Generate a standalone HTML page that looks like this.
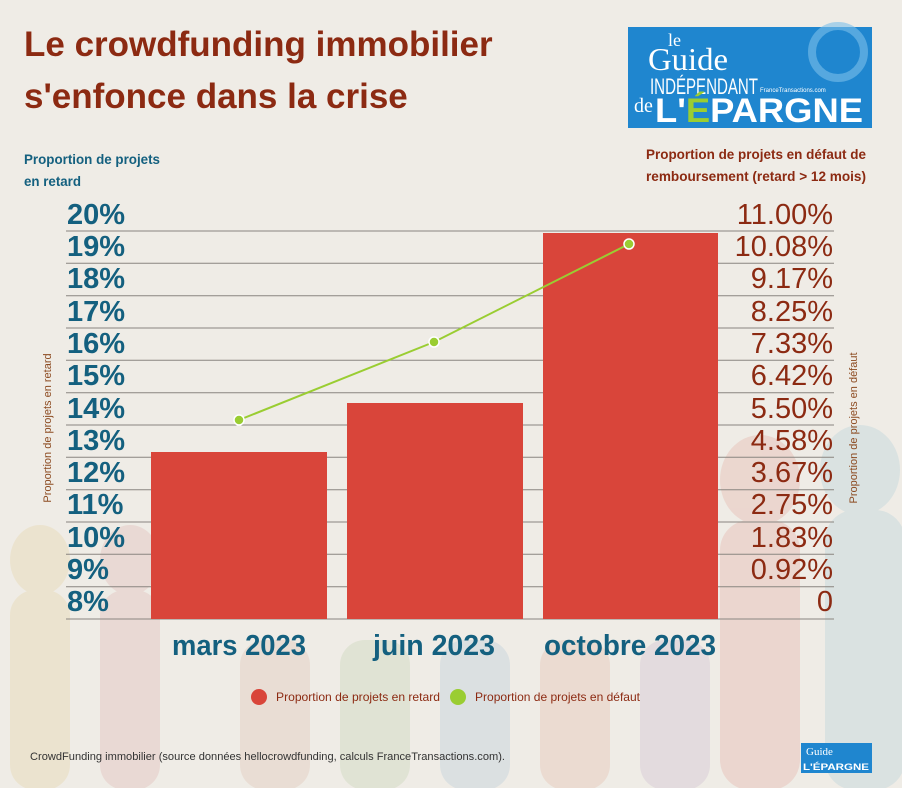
<!DOCTYPE html>
<html><head><meta charset="utf-8"><style>
body{margin:0;width:902px;height:788px;background:#efece6;overflow:hidden;font-family:"Liberation Sans",sans-serif;position:relative}
.t{position:absolute;left:24px;font-weight:bold;font-size:35px;color:#8c2a12;white-space:nowrap}
</style></head><body>
<svg width="902" height="788" style="position:absolute;left:0;top:0">
<g opacity="0.14">
<ellipse cx="40" cy="560" rx="30" ry="35" fill="#d9b24a"/><rect x="10" y="590" width="60" height="200" rx="25" fill="#d9b24a"/>
<ellipse cx="130" cy="560" rx="30" ry="35" fill="#c96a6a"/><rect x="100" y="590" width="60" height="200" rx="25" fill="#c96a6a"/>
<ellipse cx="760" cy="480" rx="40" ry="45" fill="#d45a4a"/><rect x="720" y="520" width="80" height="270" rx="30" fill="#d45a4a"/>
<ellipse cx="860" cy="470" rx="40" ry="45" fill="#5fa8c8"/><rect x="825" y="510" width="80" height="280" rx="30" fill="#5fa8c8"/>
<rect x="240" y="640" width="70" height="150" rx="25" fill="#c98a6a"/><rect x="340" y="640" width="70" height="150" rx="25" fill="#8cb06a"/>
<rect x="440" y="640" width="70" height="150" rx="25" fill="#6a9ec9"/><rect x="540" y="640" width="70" height="150" rx="25" fill="#d47a5a"/>
<rect x="640" y="640" width="70" height="150" rx="25" fill="#a07ab0"/>
</g>
<g stroke="#8a8580" stroke-width="1">
<line x1="66" x2="834" y1="231" y2="231"/><line x1="66" x2="834" y1="263.3" y2="263.3"/><line x1="66" x2="834" y1="295.7" y2="295.7"/>
<line x1="66" x2="834" y1="328" y2="328"/><line x1="66" x2="834" y1="360.3" y2="360.3"/><line x1="66" x2="834" y1="392.7" y2="392.7"/>
<line x1="66" x2="834" y1="425" y2="425"/><line x1="66" x2="834" y1="457.3" y2="457.3"/><line x1="66" x2="834" y1="489.7" y2="489.7"/>
<line x1="66" x2="834" y1="522" y2="522"/><line x1="66" x2="834" y1="554.3" y2="554.3"/><line x1="66" x2="834" y1="586.7" y2="586.7"/>
<line x1="66" x2="834" y1="619" y2="619"/>
</g>
<g fill="#d9453a">
<rect x="151" y="452" width="176" height="167"/><rect x="347" y="403" width="176" height="216"/><rect x="543" y="233" width="175" height="386"/>
</g>
<polyline points="239,420 434,342 629,244" fill="none" stroke="#9acd32" stroke-width="2"/>
<g fill="#9acd32" stroke="#fff" stroke-width="1.5"><circle cx="239" cy="420" r="5"/><circle cx="434" cy="342" r="5"/><circle cx="629" cy="244" r="5"/></g>
<g font-size="29" fill="#14607f" font-weight="bold">
<text x="67" y="224">20%</text><text x="67" y="256">19%</text><text x="67" y="288">18%</text><text x="67" y="321">17%</text>
<text x="67" y="353">16%</text><text x="67" y="385">15%</text><text x="67" y="418">14%</text><text x="67" y="450">13%</text>
<text x="67" y="482">12%</text><text x="67" y="514">11%</text><text x="67" y="547">10%</text><text x="67" y="579">9%</text><text x="67" y="611">8%</text>
</g>
<g font-size="29" fill="#8c2a12" text-anchor="end">
<text x="833" y="224">11.00%</text><text x="833" y="256">10.08%</text><text x="833" y="288">9.17%</text><text x="833" y="321">8.25%</text>
<text x="833" y="353">7.33%</text><text x="833" y="385">6.42%</text><text x="833" y="418">5.50%</text><text x="833" y="450">4.58%</text>
<text x="833" y="482">3.67%</text><text x="833" y="514">2.75%</text><text x="833" y="547">1.83%</text><text x="833" y="579">0.92%</text><text x="833" y="611">0</text>
</g>
<g font-size="29" fill="#14607f" font-weight="bold">
<text x="172" y="655" textLength="134" lengthAdjust="spacingAndGlyphs">mars 2023</text>
<text x="373" y="655" textLength="122" lengthAdjust="spacingAndGlyphs">juin 2023</text>
<text x="544" y="655" textLength="172" lengthAdjust="spacingAndGlyphs">octobre 2023</text>
</g>
<text transform="translate(51,428) rotate(-90)" text-anchor="middle" font-size="11" fill="#8c4a20">Proportion de projets en retard</text>
<text transform="translate(857,428) rotate(-90)" text-anchor="middle" font-size="11" fill="#8c4a20">Proportion de projets en défaut</text>
<circle cx="259" cy="697" r="8" fill="#d9453a"/><text x="276" y="701" font-size="12" fill="#8c2a12" textLength="164" lengthAdjust="spacingAndGlyphs">Proportion de projets en retard</text>
<circle cx="458" cy="697" r="8" fill="#9acd32"/><text x="475" y="701" font-size="12" fill="#8c2a12" textLength="165" lengthAdjust="spacingAndGlyphs">Proportion de projets en défaut</text>
<g font-size="14" font-weight="bold">
<text x="24" y="164" fill="#14607f" textLength="136" lengthAdjust="spacingAndGlyphs">Proportion de projets</text>
<text x="24" y="186" fill="#14607f" textLength="57" lengthAdjust="spacingAndGlyphs">en retard</text>
<text x="646" y="159" fill="#8c2a12" textLength="220" lengthAdjust="spacingAndGlyphs">Proportion de projets en défaut de</text>
<text x="646" y="181" fill="#8c2a12" textLength="220" lengthAdjust="spacingAndGlyphs">remboursement (retard &gt; 12 mois)</text>
</g>
<text x="30" y="760" font-size="11" fill="#333" textLength="475" lengthAdjust="spacingAndGlyphs">CrowdFunding immobilier (source données hellocrowdfunding, calculs FranceTransactions.com).</text>
<rect x="628" y="27" width="244" height="101" fill="#1f86cf"/>
<circle cx="838" cy="52" r="26" fill="none" stroke="#7cc0ea" stroke-width="8" opacity="0.6"/>
<text x="668" y="46" font-family="Liberation Serif" font-size="18" fill="#fff">le</text>
<text x="648" y="70" font-family="Liberation Serif" font-size="32" fill="#fff" textLength="80" lengthAdjust="spacingAndGlyphs">Guide</text>
<text x="650" y="94" font-size="22" fill="#fff" textLength="108" lengthAdjust="spacingAndGlyphs">INDÉPENDANT</text>
<text x="760" y="92" font-size="6" fill="#fff">FranceTransactions.com</text>
<text x="634" y="112" font-family="Liberation Serif" font-size="20" fill="#fff">de</text>
<text x="655" y="122" font-size="34" font-weight="bold" fill="#fff" textLength="208" lengthAdjust="spacingAndGlyphs">L'<tspan fill="#9acd32">É</tspan>PARGNE</text>
<rect x="801" y="743" width="71" height="30" fill="#1f86cf"/>
<text x="806" y="755" font-family="Liberation Serif" font-size="11" fill="#fff">Guide</text>
<text x="803" y="770" font-size="9" font-weight="bold" fill="#fff" textLength="66" lengthAdjust="spacingAndGlyphs">L'ÉPARGNE</text>
</svg>
<div class="t" style="top:25px">Le crowdfunding immobilier</div>
<div class="t" style="top:77px">s'enfonce dans la crise</div>
</body></html>
